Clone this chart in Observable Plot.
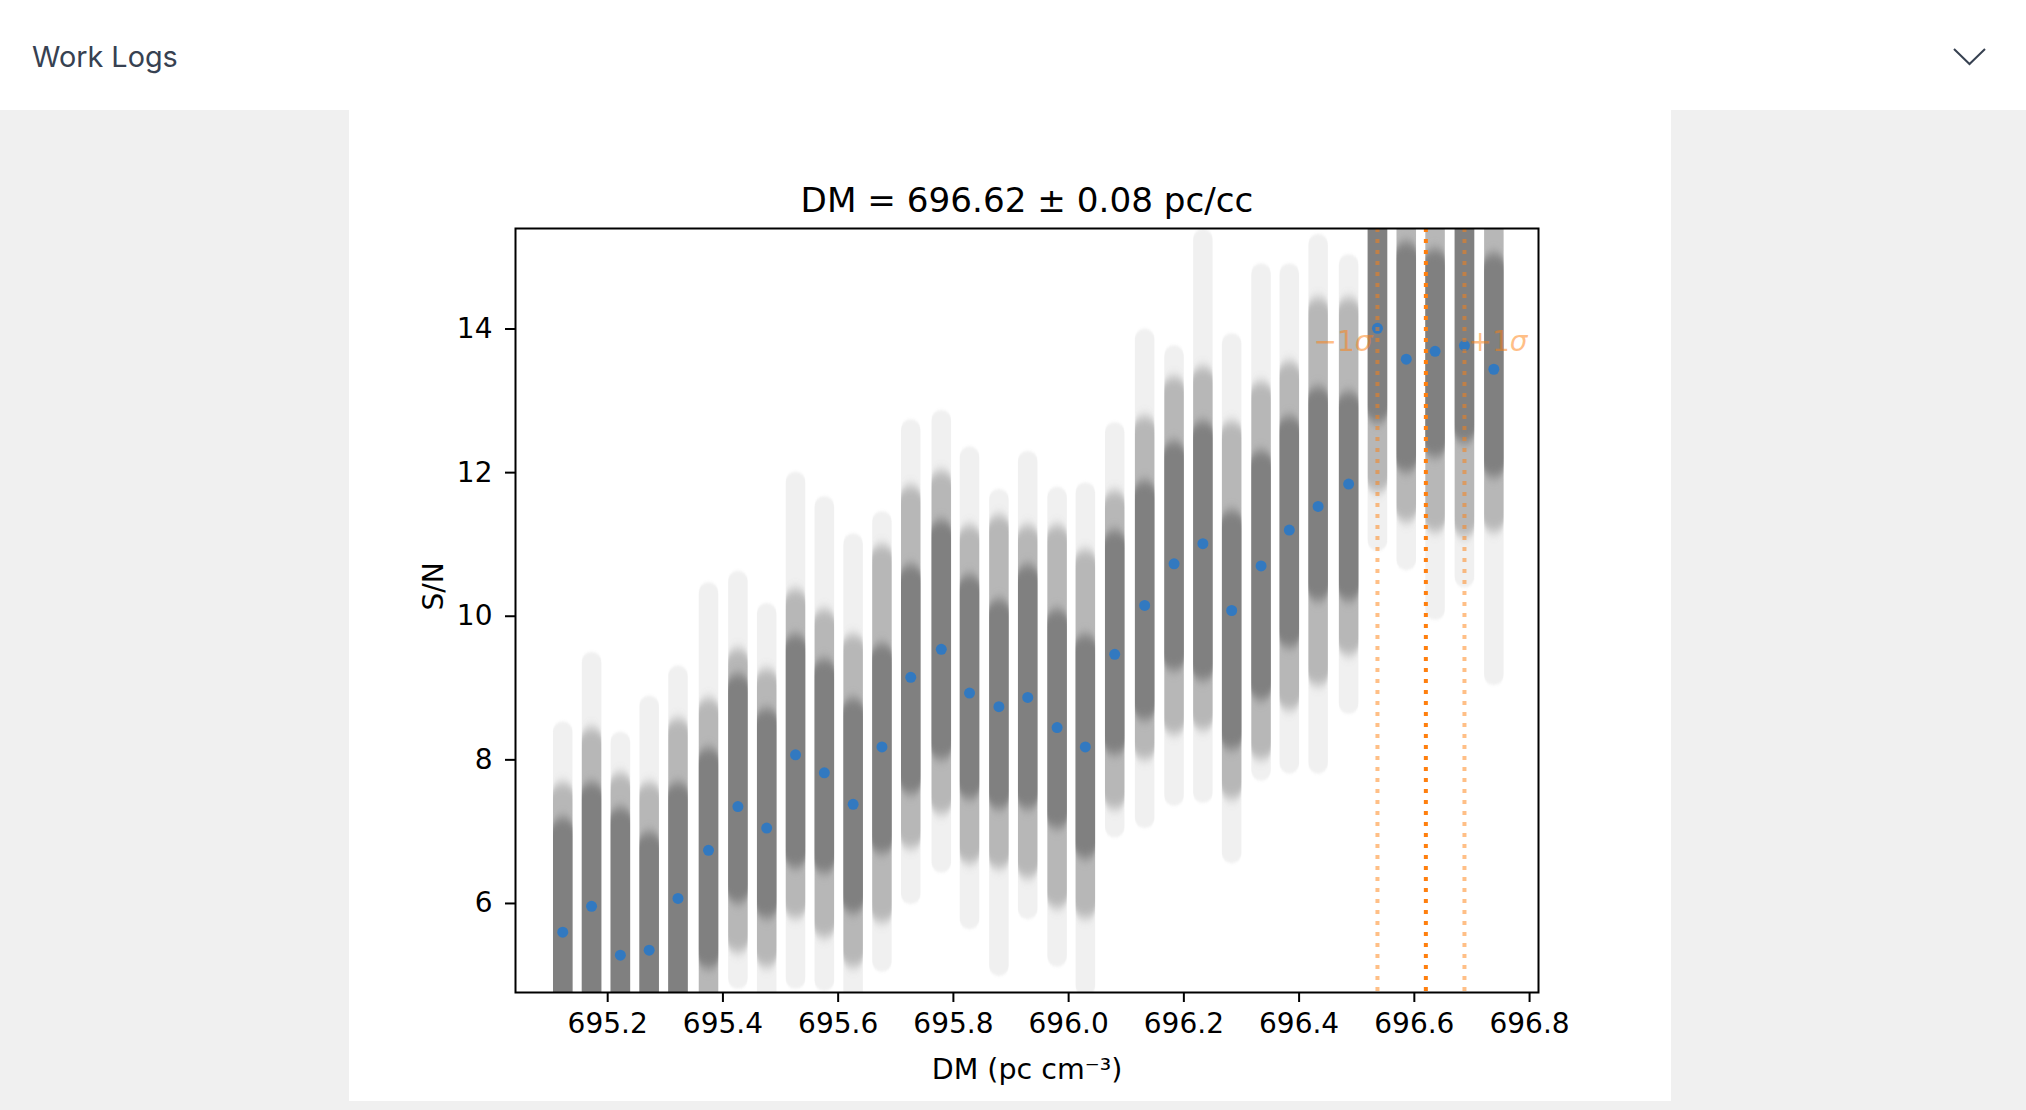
<!DOCTYPE html>
<html>
<head>
<meta charset="utf-8">
<script src="https://cdn.jsdelivr.net/npm/d3@7"></script>
<script src="https://cdn.jsdelivr.net/npm/@observablehq/plot@0.6"></script>
<style>
  html, body { margin: 0; padding: 0; background: #f0f0f0; width: 2026px; height: 1110px; overflow: hidden; }
  #header { position: absolute; left: 0; top: 0; width: 2026px; height: 110px; background: #fff; }
  #panel { position: absolute; left: 349px; top: 110px; width: 1322px; height: 991px; background: #fff; }
  #panel svg { display: block; }
</style>
</head>
<body>
<div id="header">
  <svg width="2026" height="110">
    <text x="32" y="67" font-family="Inter, 'Noto Sans', sans-serif" font-size="28.8" fill="#374151">Work Logs</text>
    <polyline points="1954,49 1969.5,64 1985,49" fill="none" stroke="#374151" stroke-width="2"/>
  </svg>
</div>
<svg width="0" height="0" style="position:absolute">
  <defs>
    <filter id="vblur" x="-5%" y="-10%" width="110%" height="120%">
      <feGaussianBlur stdDeviation="0.5 5.5"/>
    </filter>
    <filter id="sblur" x="-5%" y="-10%" width="110%" height="120%">
      <feGaussianBlur stdDeviation="0.5 1.5"/>
    </filter>
  </defs>
</svg>
<div id="panel"></div>
<script>
// ---- data ----
const titleText = "DM = 696.62 ± 0.08 pc/cc";
const xLabelText = "DM (pc cm⁻³)";
const yLabelText = "S/N";

// DM trial values (pc cm^-3)
const dm = [695.122, 695.172, 695.222, 695.272, 695.322, 695.375, 695.426, 695.476,
            695.526, 695.576, 695.626, 695.676, 695.726, 695.779, 695.828, 695.879,
            695.929, 695.980, 696.029, 696.080, 696.132, 696.183, 696.233, 696.283,
            696.334, 696.383, 696.433, 696.486, 696.536, 696.586, 696.636, 696.687, 696.738];

// observed S/N at each trial (blue points)
const snObs = [5.60, 5.96, 5.28, 5.35, 6.07, 6.74, 7.35, 7.05,
               8.07, 7.82, 7.38, 8.18, 9.15, 9.54, 8.93, 8.74,
               8.87, 8.45, 8.18, 9.47, 10.15, 10.73, 11.01, 10.08,
               10.70, 11.20, 11.53, 11.84, 14.01, 13.58, 13.69, 13.77, 13.44];

// spread of the resampled S/N at each trial (grey samples)
const snMax    = [8.39, 9.36, 8.25, 8.75, 9.17, 10.33, 10.49, 10.04,
                  11.87, 11.53, 11.01, 11.32, 12.60, 12.73, 12.22, 11.63,
                  12.16, 11.66, 11.72, 12.56, 13.86, 13.63, 15.25, 13.80,
                  14.77, 14.77, 15.18, 14.90, 16.5, 16.0, 16.0, 16.2, 16.0];
const snMedHi  = [7.54, 8.30, 7.67, 7.54, 8.43, 8.71, 9.40, 9.12,
                  10.23, 9.95, 9.60, 10.85, 11.67, 11.88, 11.12, 11.26,
                  11.12, 11.12, 10.78, 11.60, 12.64, 13.19, 13.33, 12.57,
                  13.12, 13.40, 14.29, 14.29, 16.2, 15.47, 15.47, 16.0, 15.47];
const snCoreHi = [7.05, 7.54, 7.19, 6.85, 7.54, 8.02, 9.05, 8.57,
                  9.60, 9.26, 8.71, 9.47, 10.57, 11.19, 10.43, 10.09,
                  10.57, 9.95, 9.60, 11.05, 11.74, 12.29, 12.57, 11.33,
                  12.16, 12.64, 13.05, 12.98, 16.0, 15.07, 14.97, 15.8, 14.91];
const snCoreLo = [4.3, 4.3, 4.3, 4.3, 4.3, 5.23, 6.14, 5.93,
                  6.63, 6.56, 6.00, 6.83, 7.66, 8.14, 7.59, 7.45,
                  7.45, 7.18, 6.76, 8.21, 8.69, 9.38, 9.24, 8.28,
                  8.97, 9.70, 10.35, 10.35, 12.83, 12.14, 12.35, 12.55, 12.07];
const snMedLo  = [4.1, 4.1, 4.1, 4.1, 4.1, 4.5, 5.45, 5.25,
                  5.93, 5.66, 5.25, 5.87, 6.90, 7.38, 6.69, 6.62,
                  6.49, 6.07, 5.93, 7.45, 8.14, 8.49, 8.55, 7.59,
                  8.14, 8.83, 9.17, 9.59, 11.86, 11.45, 11.31, 11.24, 11.31];
const snMin    = [4.0, 4.0, 4.0, 4.0, 4.0, 4.3, 4.94, 4.6,
                  4.94, 4.91, 4.6, 5.18, 6.12, 6.56, 5.77, 5.12,
                  5.91, 5.25, 4.84, 7.05, 7.18, 7.49, 7.53, 6.69,
                  7.84, 7.94, 7.94, 8.77, 11.04, 10.77, 10.08, 10.53, 9.17];

// best DM and its ±1σ bounds
const dmLower = 696.536, dmBest = 696.62, dmUpper = 696.687;
const sigmaLabelY = 13.69;

const xTicks = [695.2, 695.4, 695.6, 695.8, 696.0, 696.2, 696.4, 696.6, 696.8];
const yTicks = [6, 8, 10, 12, 14];

// ---- build table ----
const cols = dm.map((x, i) => ({
  x, obs: snObs[i], max: snMax[i], medHi: snMedHi[i], coreHi: snCoreHi[i],
  coreLo: snCoreLo[i], medLo: snMedLo[i], min: snMin[i]
}));

const grey = "#808080";
const orange = "#ff7f0e";
const colW = 19.5;
const base = { strokeWidth: colW, strokeLinecap: "round", clip: true };

const chart = Plot.plot({
  width: 1322,
  height: 991,
  marginLeft: 166,
  marginRight: 133,
  marginTop: 118,
  marginBottom: 109,
  style: { fontFamily: "'DejaVu Sans', sans-serif", fontSize: "28px", color: "#000", background: "transparent", overflow: "visible" },
  x: { domain: [695.040, 696.8155], label: null },
  y: { domain: [4.76, 15.40], label: null },
  marks: [
    Plot.ruleX(cols, { x: "x", y1: "min", y2: "max", stroke: grey, strokeOpacity: 0.12, ...base, imageFilter: "url(#sblur)" }),
    Plot.ruleX(cols, { x: "x", y1: "medLo", y2: "medHi", stroke: grey, strokeOpacity: 0.5, ...base, imageFilter: "url(#vblur)" }),
    Plot.ruleX(cols, { x: "x", y1: "coreLo", y2: "coreHi", stroke: grey, strokeOpacity: 1, ...base, imageFilter: "url(#vblur)" }),
    Plot.dot(cols, { x: "x", y: "obs", r: 5.5, fill: "#3279c0", stroke: "none", clip: true }),
    Plot.ruleX([dmLower, dmUpper], { x: d => d, stroke: orange, strokeOpacity: 0.5, strokeWidth: 4, strokeDasharray: "4,7" }),
    Plot.ruleX([dmBest], { x: d => d, stroke: orange, strokeWidth: 4, strokeDasharray: "4,7" }),
    Plot.text(["−1σ"], { x: dmLower, y: sigmaLabelY, text: d => d, textAnchor: "end", lineAnchor: "bottom", dx: -5, fill: orange, fillOpacity: 0.5 }),
    Plot.text(["+1σ"], { x: dmUpper, y: sigmaLabelY, text: d => d, textAnchor: "start", lineAnchor: "bottom", dx: 4, fill: orange, fillOpacity: 0.5 }),
    Plot.frame({ stroke: "#000", strokeWidth: 2 }),
    Plot.axisX({ ticks: xTicks, tickSize: 10, tickPadding: 11, strokeWidth: 2, tickFormat: d => d.toFixed(1), label: null }),
    Plot.axisY({ ticks: yTicks, tickSize: 10, tickPadding: 13, strokeWidth: 2, tickFormat: d => String(d), label: null }),
    Plot.text([titleText], { frameAnchor: "top", text: d => d, lineAnchor: "bottom", dy: -17, fontSize: 34.2 }),
    Plot.text([xLabelText], { frameAnchor: "bottom", text: d => d, lineAnchor: "bottom", dy: 86, fontSize: 28.5 }),
    Plot.text([yLabelText], { frameAnchor: "left", text: d => d, lineAnchor: "bottom", rotate: -90, dx: -73 })
  ]
});

// italic sigma, as in mathtext
const NS = "http://www.w3.org/2000/svg";
chart.querySelectorAll("text").forEach(t => {
  const s = t.textContent;
  if (s === "−1σ" || s === "+1σ") {
    t.textContent = "";
    const a = document.createElementNS(NS, "tspan");
    a.textContent = s.slice(0, 2);
    const b = document.createElementNS(NS, "tspan");
    b.textContent = "σ";
    b.setAttribute("font-style", "italic");
    t.appendChild(a); t.appendChild(b);
  }
});

document.getElementById("panel").appendChild(chart);
</script>
</body>
</html>
